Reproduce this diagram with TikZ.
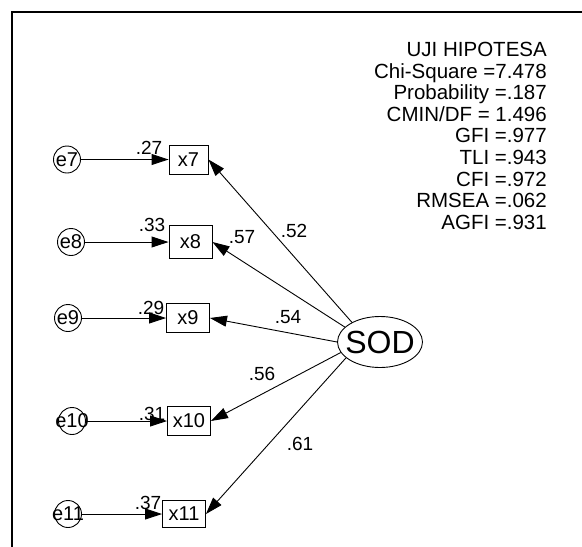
\documentclass[tikz,border=0pt]{standalone}
\usepackage{fontspec}
\setmainfont{Liberation Sans}
\usetikzlibrary{arrows.meta, shapes.geometric}

\begin{document}
\begin{tikzpicture}[
    x=1pt, y=-1pt,
    every node/.style={inner sep=0pt},
    err/.style={draw, circle, line width=0.9pt, minimum size=27pt,
                font=\fontsize{20}{20}\selectfont},
    obs/.style={draw, rectangle, line width=0.9pt, minimum width=43pt,
                minimum height=29pt, font=\fontsize{20}{20}\selectfont},
    lat/.style={draw, ellipse, line width=0.9pt, minimum width=85pt,
                minimum height=51pt, font=\fontsize{32}{32}\selectfont},
    coef/.style={font=\fontsize{19}{19}\selectfont},
    stats/.style={align=right, font=\fontsize{20.5}{21.6}\selectfont},
    arr/.style={-{Triangle[length=17pt, width=11pt]}, line width=0.9pt},
    frame/.style={line width=1.6pt}
]
    \useasboundingbox (0,0) rectangle (582,547);

    % frame (top and left edge only)
    \draw[frame] (11,12) -- (582,12);
    \draw[frame] (12,12) -- (12,547);

    % fit indices
    \node[stats, anchor=north east] (fit) at (547,42)
        {UJI HIPOTESA\\
         Chi-Square =7.478\\
         Probability =.187\\
         CMIN/DF = 1.496\\
         GFI =.977\\
         TLI =.943\\
         CFI =.972\\
         RMSEA =.062\\
         AGFI =.931};

    % latent variable
    \node[lat] (sod) at (380,342) {\makebox[0pt]{SOD}};

    % indicators
    \node[obs, minimum width=39pt] (x7) at (188.5,159.5) {x7};
    \node[obs, minimum height=33pt] (x8) at (190.5,242) {x8};
    \node[obs] (x9) at (188,318) {x9};
    \node[obs] (x10) at (189,421) {x10};
    \node[obs, minimum height=27pt] (x11) at (184,514) {x11};

    % error terms
    \node[err] (e7) at (67,159.5) {\makebox[0pt]{e7}};
    \node[err] (e8) at (71,242) {\makebox[0pt]{e8}};
    \node[err] (e9) at (68,318) {\makebox[0pt]{e9}};
    \node[err] (e10) at (72,421) {\makebox[0pt]{e10}};
    \node[err] (e11) at (68,514) {\makebox[0pt]{e11}};

    \draw[arr] (e7) -- (x7);
    \draw[arr] (e8) -- (x8);
    \draw[arr] (e9) -- (x9);
    \draw[arr] (e10) -- (x10);
    \draw[arr] (e11) -- (x11);

    % loadings
    \draw[arr] (sod.145) -- (x7.east);
    \draw[arr] (sod.157) -- (x8.east);
    \draw[arr] (sod.west) -- (x9.east);
    \draw[arr] (sod.195) -- (x10.east);
    \draw[arr] (sod.205) -- (x11.east);

    % estimates
    \node[coef] (r7) at (149,148) {.27};
    \node[coef] (r8) at (152,225) {.33};
    \node[coef] (r9) at (151,308) {.29};
    \node[coef] (r10) at (152,414) {.31};
    \node[coef] (r11) at (148,503) {.37};
    \node[coef] (l7) at (294,231) {.52};
    \node[coef] (l8) at (242,237) {.57};
    \node[coef] (l9) at (288,317) {.54};
    \node[coef] (l10) at (262,374) {.56};
    \node[coef] (l11) at (300,444) {.61};
\end{tikzpicture}
\end{document}
